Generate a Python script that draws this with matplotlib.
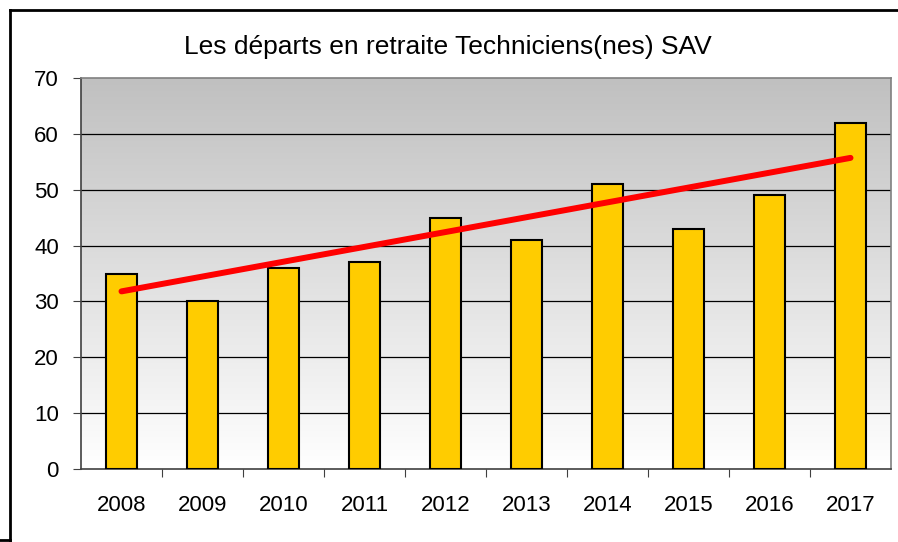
import numpy as np
import matplotlib
matplotlib.use("Agg")
import matplotlib.pyplot as plt
from matplotlib.lines import Line2D
from matplotlib.colors import LinearSegmentedColormap

years = ['2008', '2009', '2010', '2011', '2012', '2013', '2014', '2015', '2016', '2017']
departs = [35, 30, 36, 37, 45, 41, 51, 43, 49, 62]
# trend line ends
trend_start = 31.8
trend_end = 55.7

W, H = 898, 542
fig = plt.figure(figsize=(W / 100, H / 100), dpi=100)
fig.patch.set_facecolor('white')

# frame around the chart (partially cut)
fig.add_artist(Line2D([10 / W, 10 / W], [1 - 10 / H, 0], color='black', lw=2))
fig.add_artist(Line2D([10 / W, 1], [1 - 10 / H, 1 - 10 / H], color='black', lw=2))
fig.add_artist(Line2D([0, 10 / W], [1 - 540 / H, 1 - 540 / H], color='black', lw=2))

ax = fig.add_axes([81 / W, 1 - 469 / H, 810 / W, 391 / H])

# gray -> white gradient background
cmap = LinearSegmentedColormap.from_list('bg', ['#ffffff', '#c0c0c0'])
grad = np.linspace(0, 1, 256).reshape(-1, 1)
ax.imshow(grad, cmap=cmap, aspect='auto', origin='lower',
          extent=[0, 1, 0, 1], transform=ax.transAxes, zorder=0)

x = np.arange(len(years))
ax.bar(x, departs, width=0.38, color='#ffcc00', edgecolor='black', linewidth=1.5, zorder=3)
ax.plot([x[0], x[-1]], [trend_start, trend_end], color='#ff0000', lw=4.3,
        solid_capstyle='round', zorder=4)

ax.set_xlim(-0.5, len(years) - 0.5)
ax.set_ylim(0, 70)
ax.set_yticks(range(0, 71, 10))
for v in range(10, 70, 10):
    ax.axhline(v, color='black', lw=0.9, zorder=1)

ax.set_xticks(np.arange(0.5, len(years) - 0.5, 1))
ax.set_xticklabels([])
ax.set_xticks(x, minor=True)
ax.set_xticklabels(years, minor=True)
ax.tick_params(axis='x', which='major', length=6, direction='out', color='#404040')
ax.tick_params(axis='x', which='minor', length=0, pad=19)
ax.tick_params(axis='y', length=6, direction='out', color='#404040', pad=10)
for lab in ax.get_xticklabels(minor=True) + ax.get_yticklabels():
    lab.set_fontfamily('Liberation Sans')
    lab.set_fontsize(16)

ax.spines['left'].set_color('#404040')
ax.spines['bottom'].set_color('#404040')
ax.spines['top'].set_color('#808080')
ax.spines['right'].set_color('#808080')
for s in ax.spines.values():
    s.set_linewidth(1.2)

fig.text(448 / W, 1 - 47 / H, 'Les départs en retraite Techniciens(nes) SAV',
         ha='center', va='center', fontsize=19, family='Liberation Sans')

fig.savefig('out.png', dpi=100)
